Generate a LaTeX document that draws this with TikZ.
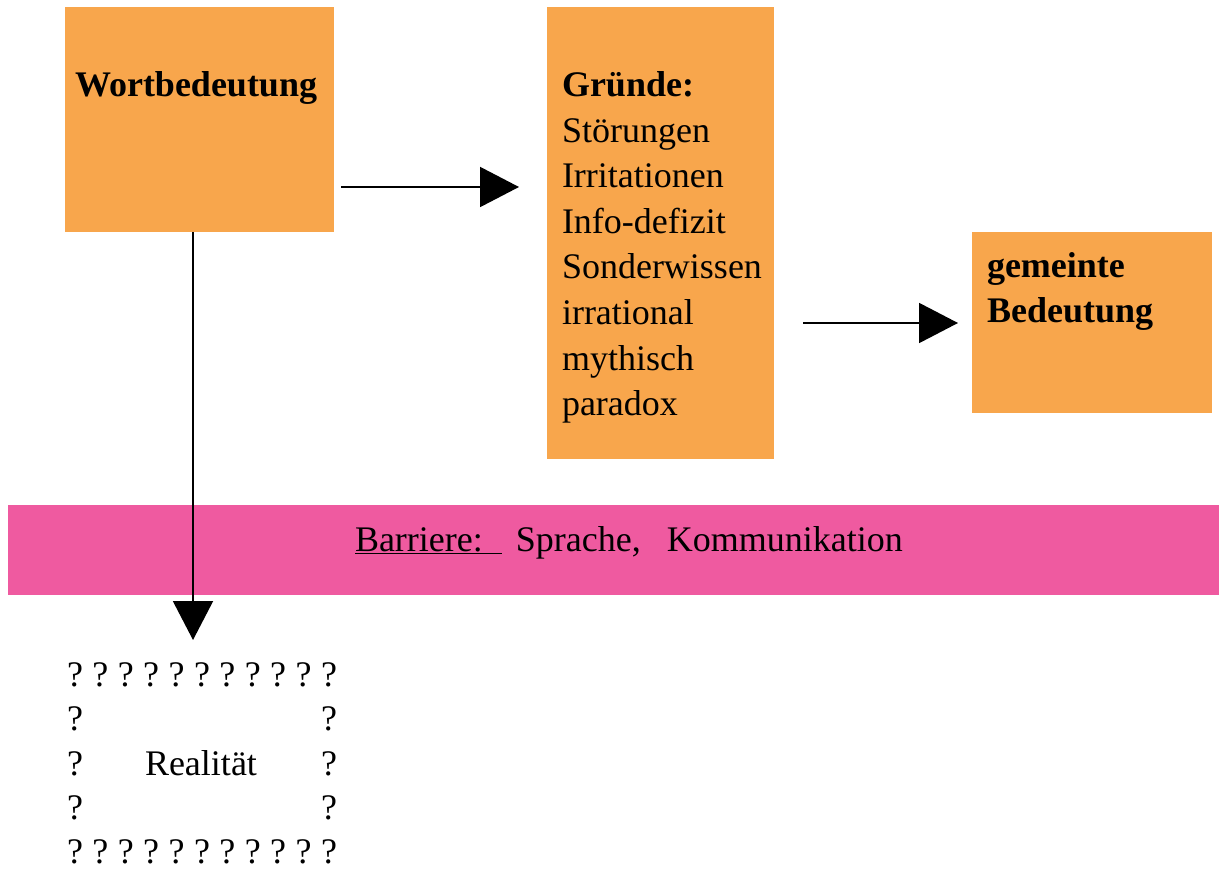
\documentclass[tikz,border=0pt]{standalone}
\usepackage{fontspec}
\setmainfont{Liberation Serif}
\usetikzlibrary{arrows.meta}
\definecolor{boxorange}{RGB}{248,166,76}
\definecolor{barpink}{RGB}{239,90,160}
\tikzset{
  box/.style={fill=boxorange, draw=none, inner sep=0pt},
  txt/.style={anchor=base west, inner sep=0pt, outer sep=0pt, font=\fontsize{36}{45}\selectfont},
  btxt/.style={txt, font=\fontsize{36}{45}\selectfont\bfseries},
  arr/.style={line width=2pt, -{Triangle[length=39pt,width=40pt]}},
}
\begin{document}
\begin{tikzpicture}[x=1pt,y=-1pt]
\useasboundingbox (0,0) rectangle (1219,869);
% boxes
\node[box, minimum width=269pt, minimum height=225pt, anchor=north west] (wort) at (65,7) {};
\node[box, minimum width=227pt, minimum height=452pt, anchor=north west] (gruende) at (547,7) {};
\node[box, minimum width=240pt, minimum height=181pt, anchor=north west] (gemeint) at (972,232) {};
\node[fill=barpink, inner sep=0pt, minimum width=1211pt, minimum height=90pt, anchor=north west] (barriere) at (8,505) {};
% texts
\node[btxt] (t1) at (75,97) {Wortbedeutung};
\node[btxt] (g0) at (562,97) {Gründe:};
\node[txt] (g1) at (562,142.5) {Störungen};
\node[txt] (g2) at (562,188) {Irritationen};
\node[txt] (g3) at (562,233.5) {Info-defizit};
\node[txt] (g4) at (562,279) {Sonderwissen};
\node[txt] (g5) at (562,324.5) {irrational};
\node[txt] (g6) at (562,370) {mythisch};
\node[txt] (g7) at (562,415.5) {paradox};
\node[btxt] (m1) at (987,278) {gemeinte};
\node[btxt] (m2) at (987,323) {Bedeutung};
\node[txt] (bt) at (355,551) {\underline{Barriere:\hspace{19pt}}\hspace{14pt}Sprache,\hspace{26pt}Kommunikation};
% question mark frame
\foreach \i in {0,...,10} {
  \node[txt, text depth=0pt] (qt\i) at (67+25.4*\i,686) {?};
  \node[txt, text depth=0pt] (qb\i) at (67+25.4*\i,863) {?};
}
\node[txt] (q2l) at (67,730.5) {?};
\node[txt] (q2r) at (321,730.5) {?};
\node[txt] (q3l) at (67,775) {?};
\node[txt] (real) at (145,775) {Realität};
\node[txt] (q3r) at (321,775) {?};
\node[txt] (q4l) at (67,819.5) {?};
\node[txt] (q4r) at (321,819.5) {?};
% arrows
\coordinate (a1s) at (341,187);
\coordinate (a1e) at (519,187);
\coordinate (a2s) at (803,323);
\coordinate (a2e) at (958,323);
\coordinate (a3e) at (193,640);
\draw[arr] (a1s) -- (a1e);
\draw[arr] (a2s) -- (a2e);
\draw[arr] (wort.south -| a3e) -- (a3e);
\end{tikzpicture}
\end{document}
